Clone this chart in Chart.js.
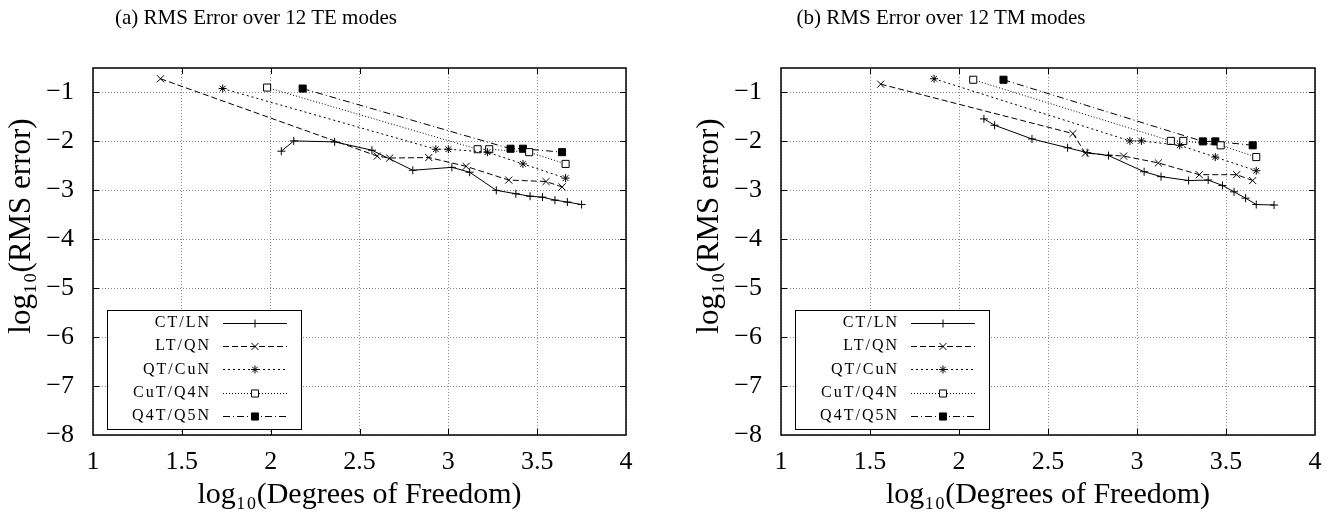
<!DOCTYPE html>
<html>
<head>
<meta charset="utf-8">
<script src="https://cdn.jsdelivr.net/npm/chart.js@4.4.1/dist/chart.umd.min.js"></script>
<style>
  body { margin: 0; background: #fff; width: 1344px; height: 513px; position: relative; overflow: hidden; font-family: "Liberation Serif", serif; }
  .panel { position: absolute; top: 0; width: 672px; height: 513px; }
  .caption { position: absolute; top: 5px; font-size: 21px; white-space: nowrap; transform: translateX(-50%); color: #000; }
</style>
</head>
<body>
<div class="panel" style="left:0"><canvas id="te" width="672" height="513"></canvas></div>
<div class="panel" style="left:672px"><canvas id="tm" width="672" height="513"></canvas></div>
<div class="caption" style="left:256px">(a) RMS Error over 12 TE modes</div>
<div class="caption" style="left:941px">(b) RMS Error over 12 TM modes</div>
<script>
const seriesNames = ['CT/LN', 'LT/QN', 'QT/CuN', 'CuT/Q4N', 'Q4T/Q5N'];
const xTicks = [1, 1.5, 2, 2.5, 3, 3.5, 4];
const yTicks = [-8, -7, -6, -5, -4, -3, -2, -1];

// (a) TE modes, points are [log10 DOF, log10 RMS error]
const teCT = [[2.06, -2.2], [2.13, -1.99], [2.36, -2.01], [2.57, -2.18], [2.80, -2.59], [3.02, -2.53], [3.12, -2.63],
  [3.27, -3.0], [3.38, -3.07], [3.46, -3.12], [3.53, -3.14], [3.60, -3.20], [3.67, -3.24], [3.75, -3.29]];
const teLT = [[1.38, -0.72], [2.60, -2.30], [2.67, -2.34], [2.89, -2.33], [3.10, -2.51], [3.34, -2.79], [3.55, -2.82], [3.64, -2.93]];
const teQT = [[1.73, -0.92], [2.93, -2.16], [3.00, -2.16], [3.22, -2.22], [3.42, -2.46], [3.66, -2.75]];
const teCuT = [[1.98, -0.90], [3.165, -2.16], [3.23, -2.16], [3.455, -2.22], [3.66, -2.46]];
const teQ4T = [[2.18, -0.92], [3.35, -2.15], [3.42, -2.15], [3.64, -2.22]];

// (b) TM modes
const tmCT = [[2.14, -1.54], [2.20, -1.67], [2.41, -1.95], [2.61, -2.13], [2.72, -2.23], [2.84, -2.29], [3.04, -2.62],
  [3.135, -2.72], [3.29, -2.80], [3.40, -2.79], [3.48, -2.90], [3.545, -3.03], [3.61, -3.16], [3.67, -3.29], [3.77, -3.30]];
const tmLT = [[1.56, -0.83], [2.64, -1.84], [2.71, -2.24], [2.925, -2.30], [3.12, -2.44], [3.35, -2.68], [3.56, -2.68], [3.65, -2.80]];
const tmQT = [[1.86, -0.72], [2.96, -1.99], [3.025, -1.99], [3.24, -2.08], [3.44, -2.32], [3.67, -2.60]];
const tmCuT = [[2.08, -0.74], [3.19, -1.99], [3.26, -1.99], [3.47, -2.08], [3.67, -2.32]];
const tmQ4T = [[2.25, -0.74], [3.37, -2.0], [3.44, -2.0], [3.65, -2.08]];

const lineDashes = [[], [6, 3], [2, 3], [1, 2], [7, 3, 1, 3]];
const pointStyles = ['cross', 'crossRot', 'star', 'rect', 'rect'];
const pointRadii = [4, 5, 4, 5, 5];
const pointFills = ['#000', '#000', '#000', '#fff', '#000'];

const SERIF = '"Liberation Serif", serif';

function minusLabel(v) {
  return v < 0 ? '\u2212' + Math.abs(v) : String(v);
}

// gnuplot look: frame, inward tick marks, boxed key with samples on the right, y label
const gnuFrame = {
  id: 'gnuFrame',
  afterDraw(chart) {
    const ctx = chart.ctx;
    const a = chart.chartArea;
    const xs = chart.scales.x, ys = chart.scales.y;
    ctx.save();
    ctx.strokeStyle = '#000';
    ctx.lineWidth = 1;
    ctx.setLineDash([]);
    ctx.beginPath();
    xTicks.slice(1, -1).forEach(v => {
      const px = Math.round(xs.getPixelForValue(v)) + 0.5;
      ctx.moveTo(px, a.bottom); ctx.lineTo(px, a.bottom - 6);
      ctx.moveTo(px, a.top); ctx.lineTo(px, a.top + 6);
    });
    yTicks.slice(1).forEach(v => {
      const py = Math.round(ys.getPixelForValue(v)) + 0.5;
      ctx.moveTo(a.left, py); ctx.lineTo(a.left + 6, py);
      ctx.moveTo(a.right, py); ctx.lineTo(a.right - 6, py);
    });
    ctx.stroke();
    ctx.lineWidth = 1.5;
    ctx.strokeRect(Math.round(a.left), Math.round(a.top), Math.round(a.right - a.left), Math.round(a.bottom - a.top));

    // key
    const kl = Math.round(a.left) + 14.5, kt = 310.5, kw = 194, kh = 119;
    ctx.fillStyle = '#fff';
    ctx.fillRect(kl, kt, kw, kh);
    ctx.lineWidth = 1;
    ctx.strokeRect(kl, kt, kw, kh);
    chart.data.datasets.forEach((ds, i) => {
      const y = 322.7 + i * 23.3;
      ctx.fillStyle = '#000';
      ctx.font = '16px ' + SERIF;
      ctx.textAlign = 'right';
      ctx.textBaseline = 'middle';
      if ('letterSpacing' in ctx) ctx.letterSpacing = '2px';
      ctx.fillText(ds.label, a.left + 118, y);
      if ('letterSpacing' in ctx) ctx.letterSpacing = '0px';
      ctx.beginPath();
      ctx.setLineDash(lineDashes[i]);
      ctx.moveTo(a.left + 130, Math.round(y) + 0.5);
      ctx.lineTo(a.left + 194, Math.round(y) + 0.5);
      ctx.stroke();
      ctx.setLineDash([]);
      ctx.fillStyle = pointFills[i];
      Chart.helpers.drawPoint(ctx, { pointStyle: pointStyles[i], radius: pointRadii[i], rotation: 0, borderWidth: 1 },
        a.left + 162, Math.round(y) + 0.5);
    });

    // y axis title
    ctx.save();
    ctx.translate(a.left - 71, 226);
    ctx.rotate(-Math.PI / 2);
    ctx.fillStyle = '#000';
    ctx.font = '31px ' + SERIF;
    ctx.textAlign = 'center';
    ctx.textBaseline = 'middle';
    ctx.fillText('log\u2081\u2080(RMS error)', 0, 0);
    ctx.restore();
    ctx.restore();
  }
};

function makeChart(id, sets, yWidth, rightPad) {
  return new Chart(document.getElementById(id), {
    type: 'scatter',
    data: {
      datasets: sets.map((pts, i) => ({
        label: seriesNames[i],
        data: pts.map(p => ({ x: p[0], y: p[1] })),
        showLine: true,
        borderColor: '#000',
        borderWidth: 1,
        borderDash: lineDashes[i],
        pointStyle: pointStyles[i],
        pointRadius: pointRadii[i],
        pointHoverRadius: pointRadii[i],
        pointBorderWidth: 1,
        pointBorderColor: '#000',
        pointBackgroundColor: pointFills[i],
        fill: false,
        tension: 0
      }))
    },
    options: {
      responsive: false,
      animation: false,
      layout: { padding: { top: 68, right: rightPad, bottom: 0, left: 0 } },
      plugins: { legend: { display: false }, tooltip: { enabled: false } },
      scales: {
        x: {
          type: 'linear', min: 1, max: 4,
          afterBuildTicks: s => { s.ticks = xTicks.map(v => ({ value: v })); },
          afterFit: s => { s.height = 78; },
          grid: { color: '#888', lineWidth: 1, drawTicks: false },
          border: { display: false, dash: [1, 2] },
          ticks: { color: '#000', font: { family: SERIF, size: 26 }, padding: 12, maxRotation: 0, callback: v => String(v) },
          title: { display: true, text: 'log\u2081\u2080(Degrees of Freedom)', color: '#000', font: { family: SERIF, size: 30 }, padding: { top: 0, bottom: 0 } }
        },
        y: {
          type: 'linear', min: -8, max: -0.5,
          afterBuildTicks: s => { s.ticks = yTicks.map(v => ({ value: v })); },
          afterFit: s => { s.width = yWidth; },
          grid: { color: '#888', lineWidth: 1, drawTicks: false },
          border: { display: false, dash: [1, 2] },
          ticks: { color: '#000', font: { family: SERIF, size: 26 }, padding: 19, callback: v => minusLabel(v) }
        }
      }
    },
    plugins: [gnuFrame]
  });
}

makeChart('te', [teCT, teLT, teQT, teCuT, teQ4T], 93, 46);
makeChart('tm', [tmCT, tmLT, tmQT, tmCuT, tmQ4T], 109, 29);
</script>
</body>
</html>
